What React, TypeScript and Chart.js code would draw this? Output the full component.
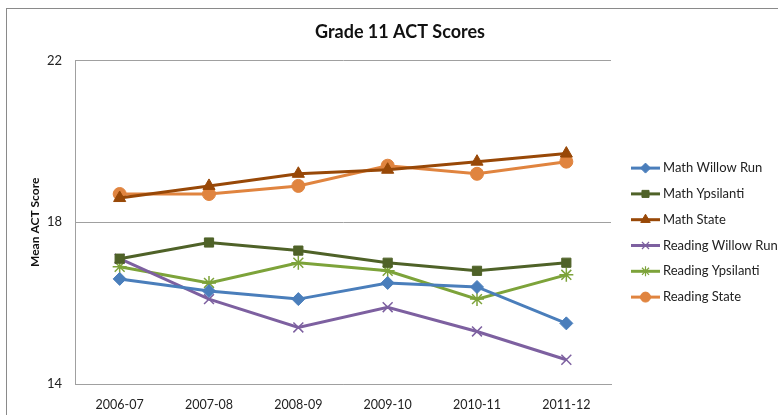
import React, { useEffect, useRef } from "react";
import { Chart, registerables } from "chart.js";
import { drawPoint } from "chart.js/helpers";

Chart.register(...registerables);

const categories = ["2006-07", "2007-08", "2008-09", "2009-10", "2010-11", "2011-12"];
const mathWillowRun = [16.6, 16.3, 16.1, 16.5, 16.4, 15.5];
const mathYpsilanti = [17.1, 17.5, 17.3, 17.0, 16.8, 17.0];
const mathState = [18.6, 18.9, 19.2, 19.3, 19.5, 19.7];
const readingWillowRun = [17.1, 16.1, 15.4, 15.9, 15.3, 14.6];
const readingYpsilanti = [16.9, 16.5, 17.0, 16.8, 16.1, 16.7];
const readingState = [18.7, 18.7, 18.9, 19.4, 19.2, 19.5];
const yTicks = [14, 18, 22];

const FONT = "Lato, 'Open Sans', sans-serif";

const seriesDefs = [
  { label: "Math Willow Run", data: mathWillowRun, color: "#4A7EBB", style: "rectRot", r: 6.5, lr: 5 },
  { label: "Math Ypsilanti", data: mathYpsilanti, color: "#4F6228", style: "rect", r: 6.5, lr: 5 },
  { label: "Math State", data: mathState, color: "#984807", style: "triangle", r: 7, lr: 5.5 },
  { label: "Reading Willow Run", data: readingWillowRun, color: "#7D60A0", style: "crossRot", r: 7, lr: 5 },
  { label: "Reading Ypsilanti", data: readingYpsilanti, color: "#7DA33A", style: "star", r: 7, lr: 5 },
  { label: "Reading State", data: readingState, color: "#E0843F", style: "circle", r: 6.5, lr: 5 },
];

const legendPlugin = {
  id: "customLegend",
  afterDraw(chart: any) {
    const { ctx, chartArea } = chart;
    const x0 = chartArea.right + 20;
    const lineLen = 29;
    const y0 = chartArea.top + 107.5;
    const step = 25.8;
    ctx.save();
    seriesDefs.forEach((s, i) => {
      const y = y0 + i * step;
      ctx.strokeStyle = s.color;
      ctx.lineWidth = 3;
      ctx.beginPath();
      ctx.moveTo(x0, y);
      ctx.lineTo(x0 + lineLen, y);
      ctx.stroke();
      ctx.fillStyle = s.color;
      ctx.strokeStyle = s.color;
      ctx.lineWidth = s.style === "crossRot" || s.style === "star" ? 1.2 : 1;
      drawPoint(ctx, { pointStyle: s.style, radius: s.lr, rotation: 0, borderWidth: ctx.lineWidth }, x0 + lineLen / 2, y);
      ctx.fillStyle = "#222";
      ctx.font = `13px ${FONT}`;
      ctx.textBaseline = "middle";
      ctx.textAlign = "left";
      ctx.fillText(s.label, x0 + lineLen + 3, y);
    });
    ctx.restore();
  },
};

export default function App() {
  const ref = useRef<HTMLCanvasElement>(null);
  useEffect(() => {
    if (!ref.current) return;
    const chart = new Chart(ref.current, {
      type: "line",
      data: {
        labels: categories,
        datasets: seriesDefs.map((s) => ({
          label: s.label,
          data: s.data,
          borderColor: s.color,
          backgroundColor: s.color,
          borderWidth: 3,
          pointStyle: s.style as any,
          pointRadius: s.r,
          pointBorderWidth: s.style === "crossRot" || s.style === "star" ? 1.5 : 1,
          pointBorderColor: s.color,
          pointBackgroundColor: s.color,
          tension: 0,
          yAxisID: "y",
        })),
      },
      options: {
        animation: false,
        responsive: false,
        devicePixelRatio: 1,
        layout: { padding: 0 },
        plugins: {
          legend: { display: false },
          tooltip: { enabled: false },
          title: {
            display: true,
            text: "Grade 11 ACT Scores",
            color: "#111",
            font: { family: FONT, size: 18, weight: "bold", lineHeight: 1.2 },
            padding: { top: 21, bottom: 18 },
          },
        },
        scales: {
          x: {
            type: "category",
            offset: true,
            grid: { display: false, drawTicks: false },
            border: { display: true, color: "#A0A0A0", width: 1 },
            ticks: { color: "#222", font: { family: FONT, size: 12.5 }, padding: 13, maxRotation: 0 },
            afterFit: (s: any) => {
              s.height = 31;
            },
          },
          y: {
            position: "left",
            min: 14,
            max: 22,
            afterBuildTicks: (s: any) => {
              s.ticks = yTicks.map((v) => ({ value: v }));
            },
            grid: { color: "#A0A0A0", drawTicks: false, lineWidth: 1 },
            border: { display: true, color: "#A0A0A0", width: 1 },
            ticks: { color: "#222", font: { family: FONT, size: 13 }, padding: 13 },
            title: {
              display: true,
              text: "Mean ACT Score",
              color: "#111",
              font: { family: FONT, size: 12, weight: "bold", lineHeight: 1.2 },
              padding: { top: 28, bottom: 0 },
            },
            afterFit: (s: any) => {
              s.width = 75;
            },
          },
          legendSpace: {
            position: "right",
            min: 14,
            max: 22,
            grid: { display: false, drawTicks: false },
            border: { display: false },
            ticks: { display: false },
            afterFit: (s: any) => {
              s.width = 189;
            },
          },
        },
      },
      plugins: [legendPlugin],
    });
    return () => chart.destroy();
  }, []);
  return (
    <div style={{ position: "fixed", left: 0, top: 0, width: 778, height: 415, overflow: "hidden", background: "#fff" }}>
      <canvas ref={ref} width={800} height={415} style={{ position: "absolute", left: 0, top: 0, width: 800, height: 415 }} />
      <div style={{ position: "absolute", left: 6, top: 8, width: 900, height: 500, border: "1px solid #8a8a8a", boxSizing: "border-box", pointerEvents: "none" }} />
    </div>
  );
}
